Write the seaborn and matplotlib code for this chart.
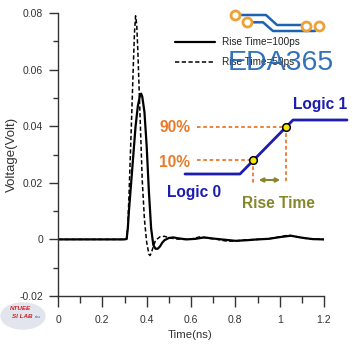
import numpy as np
import pandas as pd
import matplotlib
matplotlib.use("Agg")
import matplotlib.pyplot as plt
import seaborn as sns
from matplotlib import font_manager
from matplotlib.ticker import MultipleLocator, FuncFormatter
from matplotlib.patches import FancyArrowPatch, Ellipse

# ---------------- data ----------------
label_100 = "Rise Time=100ps"
label_50 = "Rise Time=50ps"

t_100 = [0.0, 0.30, 0.31, 0.315, 0.32, 0.33, 0.34, 0.35, 0.36, 0.37, 0.375, 0.38,
         0.39, 0.40, 0.41, 0.42, 0.43, 0.44, 0.45, 0.46, 0.47, 0.48, 0.50, 0.52,
         0.55, 0.58, 0.62, 0.66, 0.70, 0.75, 0.80, 0.85, 0.90, 0.95, 1.00, 1.05,
         1.10, 1.15, 1.20]
v_100 = [0.0, 0.0, 0.0003, 0.004, 0.010, 0.020, 0.030, 0.040, 0.047, 0.051, 0.0515, 0.0505,
         0.045, 0.033, 0.017, 0.004, -0.002, -0.0033, -0.0033, -0.0025, -0.0012, -0.0003, 0.0005, 0.0007,
         0.0003, 0.0, 0.0002, 0.0007, 0.0003, -0.0001, -0.0005, -0.0003, 0.0, 0.0002, 0.0008, 0.0013,
         0.0006, 0.0001, 0.0]

t_50 = [0.0, 0.30, 0.31, 0.315, 0.32, 0.33, 0.34, 0.345, 0.35, 0.355, 0.36, 0.37,
        0.38, 0.39, 0.40, 0.41, 0.415, 0.42, 0.43, 0.44, 0.46, 0.48, 0.50, 0.53,
        0.56, 0.60, 0.64, 0.68, 0.72, 0.76, 0.80, 0.84, 0.90, 0.95, 1.00, 1.04,
        1.08, 1.12, 1.16, 1.20]
v_50 = [0.0, 0.0, 0.0, 0.005, 0.015, 0.038, 0.062, 0.073, 0.079, 0.076, 0.067, 0.044,
        0.021, 0.007, -0.001, -0.0052, -0.0057, -0.005, -0.0025, -0.0003, 0.0009, 0.0011, 0.0006, 0.0002,
        0.0, 0.0001, 0.0009, 0.0004, 0.0, -0.0006, -0.0006, -0.0002, 0.0, 0.0002, 0.0009, 0.0015,
        0.0009, 0.0003, 0.0001, 0.0]

x_ticks = [0, 0.2, 0.4, 0.6, 0.8, 1.0, 1.2]
y_ticks = [-0.02, 0, 0.02, 0.04, 0.06, 0.08]

# ---------------- style ----------------
sns.set_style("ticks")
names = {f.name for f in font_manager.fontManager.ttflist}
NARROW = "Liberation Sans Narrow" if "Liberation Sans Narrow" in names else None
plt.rcParams["font.family"] = ["Liberation Sans", "DejaVu Sans"]

W, H = 353, 345
fig = plt.figure(figsize=(W / 100, H / 100), dpi=100)
fig.patch.set_facecolor("white")


def P(x, y):
    return (x / W, 1 - y / H)


ax = fig.add_axes([58 / W, 1 - 296 / H, 266 / W, 283 / H])
ax.set_facecolor("white")

df100 = pd.DataFrame({"Time": t_100, "Voltage": v_100})
df50 = pd.DataFrame({"Time": t_50, "Voltage": v_50})
sns.lineplot(data=df100, x="Time", y="Voltage", ax=ax, color="black", linewidth=1.6,
             sort=False, estimator=None, label=label_100)
sns.lineplot(data=df50, x="Time", y="Voltage", ax=ax, color="black", linewidth=1.1,
             sort=False, estimator=None, label=label_50)
ax.lines[1].set_dashes([2.8, 1.6])

ax.set_xlim(0, 1.2)
ax.set_ylim(-0.02, 0.08)
ax.set_xticks(x_ticks)
ax.set_yticks(y_ticks)
ax.xaxis.set_minor_locator(MultipleLocator(0.1))
ax.yaxis.set_minor_locator(MultipleLocator(0.01))
fmt = FuncFormatter(lambda v, _: f"{v:g}")
ax.xaxis.set_major_formatter(fmt)
ax.yaxis.set_major_formatter(fmt)
sns.despine(ax=ax)
for s in ("left", "bottom"):
    ax.spines[s].set_color("#333333")
    ax.spines[s].set_linewidth(1.0)
ax.tick_params(axis="both", which="both", direction="out", color="#333333",
               labelcolor="#333333", width=1.0, labelsize=7.5)
ax.tick_params(axis="x", which="major", length=8, pad=5.5)
ax.tick_params(axis="x", which="minor", length=4.8)
ax.tick_params(axis="y", which="major", length=6.5, pad=4.3)
ax.tick_params(axis="y", which="minor", length=3.6)

ax.set_xlabel("Time(ns)", fontsize=8.2, color="#333333")
ax.set_ylabel("Voltage(Volt)", fontsize=9.5, color="#333333")
ax.xaxis.set_label_coords(190 / W, 1 - 330 / H, transform=fig.transFigure)
ax.yaxis.set_label_coords(18 / W, 1 - 154 / H, transform=fig.transFigure)

leg = ax.legend(loc="upper left", bbox_to_anchor=P(175, 37), bbox_transform=fig.transFigure,
                frameon=False, fontsize=7.2, handlelength=4.0, handletextpad=0.7,
                labelspacing=1.0, borderpad=0, borderaxespad=0)
for t in leg.get_texts():
    t.set_color("#222222")

# ---------------- rise-time schematic ----------------
blue = "#1c1cae"
orange = "#e87a2a"
olive = "#86862b"
tf = fig.transFigure


def fline(xs, ys, **kw):
    pts = [P(x, y) for x, y in zip(xs, ys)]
    ax.plot([p[0] for p in pts], [p[1] for p in pts], transform=tf, clip_on=False, **kw)


fline([197, 286], [127, 127], color=orange, lw=1.3, linestyle=(0, (2, 1.5)))
fline([197, 252.7], [160, 160], color=orange, lw=1.3, linestyle=(0, (2, 1.5)))
fline([252.7, 252.7], [160, 183], color=orange, lw=1.3, linestyle=(0, (2, 1.5)))
fline([286, 286], [127, 183], color=orange, lw=1.3, linestyle=(0, (2, 1.5)))
fline([185, 240, 293, 347], [174, 174, 120, 120], color=blue, lw=2.0)
fline([252.7], [160], marker="o", ms=5.5, mfc="#f6e60a", mec="black", mew=1.1, lw=0)
fline([286], [126.7], marker="o", ms=5.5, mfc="#f6e60a", mec="black", mew=1.1, lw=0)
arr = FancyArrowPatch(P(256, 180), P(283, 180), arrowstyle="<|-|>", mutation_scale=6,
                      color=olive, lw=1.5, transform=tf)
fig.add_artist(arr)

fig.text(*P(159.3, 131.7), "90%", color=orange, fontsize=11.2, fontweight="bold", va="baseline")
fig.text(*P(159.3, 166.7), "10%", color=orange, fontsize=11.2, fontweight="bold", va="baseline")
fig.text(*P(166.7, 196.5), "Logic 0", color=blue, fontsize=11.2, fontweight="bold", va="baseline")
fig.text(*P(293, 108.5), "Logic 1", color=blue, fontsize=11.2, fontweight="bold", va="baseline")
fig.text(*P(241.7, 208.3), "Rise Time", color=olive, fontsize=11.2, fontweight="bold", va="baseline")

# ---------------- EDA365 watermark ----------------
lblue = "#1d62b3"
fline([235, 266, 277, 306], [15, 15, 25, 25], color=lblue, lw=1.8)
fline([247, 263, 273, 315, 319.3], [22.3, 22.3, 31, 31, 25.7], color=lblue, lw=1.8)
for cx, cy in [(235, 15), (247, 22.3), (306, 25.7), (319.3, 25.7)]:
    fline([cx], [cy], marker="o", ms=6.5, mfc="white", mec="#eea236", mew=2.0, lw=0)
if NARROW:
    fig.text(*P(280.3, 70), "EDA365", family=NARROW, fontsize=25, color=lblue, alpha=0.9,
             ha="center", va="baseline")
else:
    fig.text(*P(280.3, 70), "EDA365", fontsize=20.5, color=lblue, alpha=0.9,
             ha="center", va="baseline")

# ---------------- NTUEE SI LAB logo ----------------
fig.add_artist(Ellipse(P(23, 316), 44 / W, 26 / H, transform=tf, color="#e3e5ee", zorder=1))
fig.text(*P(20, 310), "NTUEE", color="#d42020", fontsize=4.5, fontweight="bold",
         style="italic", ha="center", va="baseline", zorder=3)
fig.text(*P(22, 318), "SI LAB", color="#d42020", fontsize=4.5, fontweight="bold",
         style="italic", ha="center", va="baseline", zorder=3)
fig.text(*P(38, 318), "ntu", color="#3040a0", fontsize=3, ha="center", va="baseline", zorder=3)

fig.savefig("out.png", dpi=100, facecolor="white")
